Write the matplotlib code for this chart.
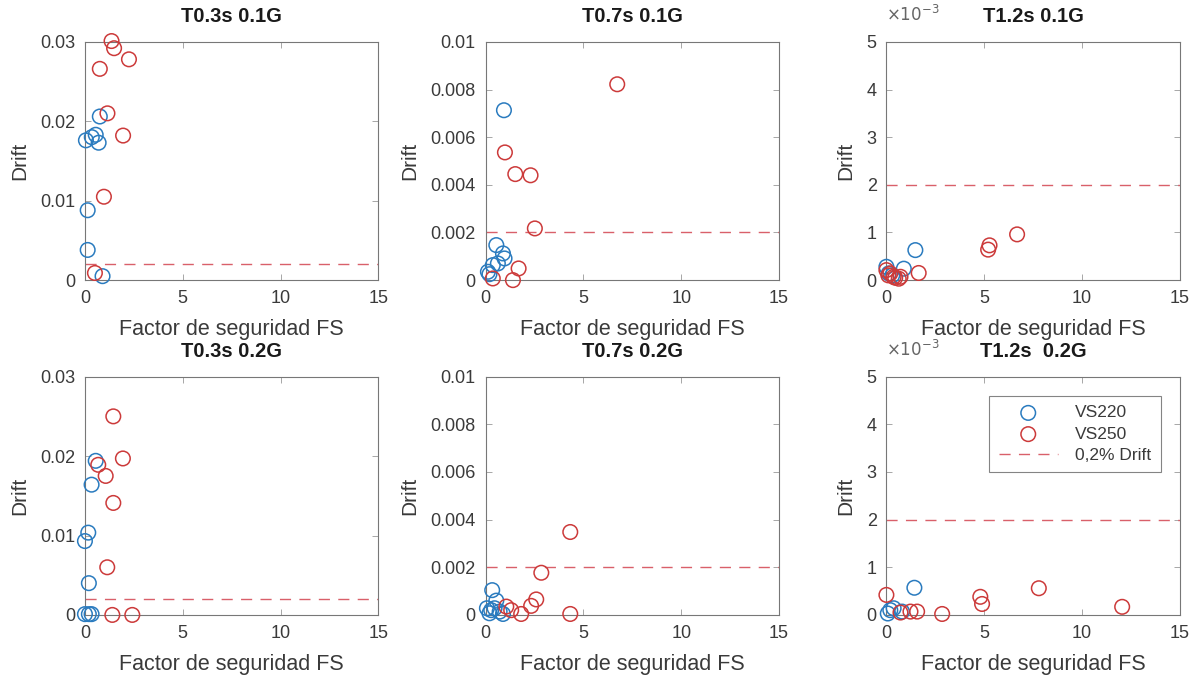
import numpy as np
import matplotlib.pyplot as plt

plt.rcParams['font.family'] = ['Liberation Sans', 'DejaVu Sans']

titles = ['T0.3s 0.1G', 'T0.7s 0.1G', 'T1.2s 0.1G',
          'T0.3s 0.2G', 'T0.7s 0.2G', 'T1.2s  0.2G']

# VS220 (blue) and VS250 (red): factor de seguridad / drift
fs220 = [
    [0.05, 0.35, 0.55, 0.7, 0.76, 0.14, 0.14, 0.9],
    [0.94, 0.55, 0.89, 0.97, 0.63, 0.37, 0.12, 0.2],
    [1.48, 0.89, 0.0, 0.12, 0.3],
    [0.34, 0.17, 0.0, 0.2, 0.0, 0.2, 0.34, 0.55],
    [0.34, 0.55, 0.07, 0.29, 0.46, 0.72, 0.89, 0.2],
    [1.43, 0.07, 0.2, 0.37, 0.8],
]
dr220 = [
    [0.0176, 0.018, 0.0183, 0.0173, 0.0206, 0.0088, 0.0038, 0.0005],
    [0.00713, 0.00147, 0.00112, 0.00091, 0.0007, 0.00063, 0.00035, 0.00025],
    [0.00063, 0.00024, 0.00028, 0.00014, 0.0001],
    [0.0164, 0.01036, 0.0093, 0.004, 0.0001, 0.0001, 0.0001, 0.0194],
    [0.00104, 0.0006, 0.00028, 0.0002, 0.00028, 0.00014, 0.00004, 0.00007],
    [0.00057, 0.00003, 0.0001, 0.00014, 0.00007],
]
fs250 = [
    [1.36, 1.49, 2.25, 0.76, 1.15, 1.95, 0.97, 0.51],
    [6.73, 0.99, 1.52, 2.3, 2.52, 1.69, 1.4, 0.37],
    [6.68, 5.27, 5.2, 1.65, 0.0, 0.37, 0.63, 0.2, 0.72, 0.1, 0.45],
    [1.45, 0.68, 1.94, 1.06, 1.45, 1.14, 1.4, 2.42],
    [4.33, 2.85, 2.59, 2.33, 1.06, 1.31, 1.82, 4.33],
    [0.0, 7.79, 4.8, 4.89, 12.05, 2.85, 1.57, 1.23, 0.72],
]
dr250 = [
    [0.0301, 0.0292, 0.0278, 0.0266, 0.021, 0.0182, 0.0105, 0.0009],
    [0.00822, 0.00536, 0.00445, 0.0044, 0.00217, 0.00049, 0.0, 0.00007],
    [0.00096, 0.00073, 0.00064, 0.00015, 0.00021, 0.00007, 0.00003, 0.00014, 0.00007, 0.0001, 0.00005],
    [0.025, 0.0189, 0.0197, 0.0175, 0.0141, 0.006, 0.0, 0.0],
    [0.00348, 0.00177, 0.00065, 0.00038, 0.00035, 0.0002, 0.00004, 0.00004],
    [0.00042, 0.00056, 0.00038, 0.00023, 0.00017, 0.00002, 0.00007, 0.00007, 0.00005],
]
ymax = [0.03, 0.01, 0.005, 0.03, 0.01, 0.005]
limite = 0.002

blue = '#2a7bbf'
red = '#cc3a3a'
gray = '#3a3a3a'

fig = plt.figure(figsize=(11.93, 6.75), dpi=100)
lefts = [0.0712, 0.407, 0.743]
bottoms = [0.585, 0.089]

for i in range(6):
    ax = fig.add_axes([lefts[i % 3], bottoms[i // 3], 0.246, 0.353])
    h1 = ax.scatter(fs220[i], dr220[i], s=110, facecolors='none', edgecolors=blue, linewidths=1.1,
                    label='VS220', clip_on=False, zorder=3)
    h2 = ax.scatter(fs250[i], dr250[i], s=110, facecolors='none', edgecolors=red, linewidths=1.1,
                    label='VS250', clip_on=False, zorder=3)
    h3, = ax.plot([0, 15], [limite, limite], '--', color='#d9606a', lw=1.0, dashes=(8, 6), label='0,2% Drift')
    ax.set_xlim(0, 15)
    ax.set_ylim(0, ymax[i])
    ax.set_xticks([0, 5, 10, 15])
    if ymax[i] == 0.03:
        ax.set_yticks([0, 0.01, 0.02, 0.03])
        ax.set_yticklabels(['0', '0.01', '0.02', '0.03'])
    elif ymax[i] == 0.01:
        ax.set_yticks(np.arange(0, 0.0101, 0.002))
        ax.set_yticklabels(['0', '0.002', '0.004', '0.006', '0.008', '0.01'])
    else:
        ax.set_yticks(np.arange(0, 0.00501, 0.001))
        ax.set_yticklabels(['0', '1', '2', '3', '4', '5'])
        ax.text(0.0, 1.075, r'$\times10^{-3}$', transform=ax.transAxes, fontsize=12, color='#666666',
                va='bottom', ha='left')
    ax.tick_params(direction='in', top=True, right=True, labelsize=13, colors='#999999', labelcolor=gray,
                   length=4, width=0.6, pad=7)
    for sp in ax.spines.values():
        sp.set_color('#777777')
        sp.set_linewidth(0.8)
    ax.set_title(titles[i], fontsize=14.5, fontweight='bold', color='#1a1a1a', pad=14)
    ax.set_xlabel('Factor de seguridad FS', fontsize=15.5, color=gray, labelpad=9)
    ax.set_ylabel('Drift', fontsize=15, color=gray, labelpad=8)
    if i == 5:
        leg = ax.legend(handles=[h1, h2, h3], loc='upper right', fontsize=12.5, frameon=True, fancybox=False,
                        edgecolor='#666666', borderaxespad=1.1, handlelength=3.4, handletextpad=1.0,
                        labelspacing=0.35, borderpad=0.55)
        leg.get_frame().set_linewidth(0.8)
        for t in leg.get_texts():
            t.set_color(gray)

plt.savefig('out.png', dpi=100)
